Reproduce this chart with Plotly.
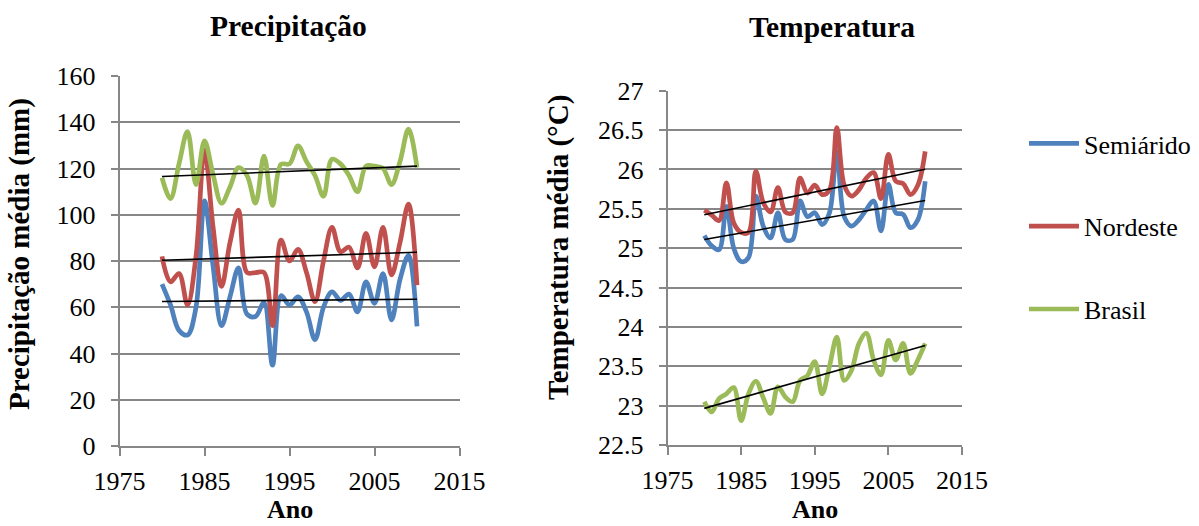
import numpy as np
import plotly.graph_objects as go

# ---------------- data ----------------
years = list(range(1980, 2011))

semi_precip = [70, 61, 50, 48, 60, 106, 78, 52, 64.5, 77, 57, 56, 62, 35, 65, 61, 64.5, 58,
               46, 60, 66.7, 63, 65.7, 58, 71, 61.7, 74.6, 54.5, 72, 82.4, 51.7]
nord_precip = [82, 71, 74.6, 61, 82, 128, 95, 69, 88, 102, 75, 75, 75, 52, 89, 80, 85, 75,
               62.4, 80, 94.6, 84, 86, 77, 92, 77.5, 94.6, 74, 88, 104.6, 69.6]
bras_precip = [116, 107, 122, 136, 113, 132, 117.5, 105, 112, 120.4, 117, 105, 125.4, 104,
               121.8, 122, 129.8, 123, 117, 108, 124, 122, 117, 110, 121, 121, 120, 113,
               123, 137, 120.4]

semi_temp = [25.16, 25.03, 24.98, 25.53, 25.0, 24.83, 24.88, 25.66, 25.28, 25.13, 25.45,
             25.11, 25.11, 25.6, 25.4, 25.45, 25.3, 25.45, 26.23, 25.4, 25.28, 25.36, 25.49,
             25.6, 25.22, 25.81, 25.45, 25.43, 25.26, 25.36, 25.85]
nord_temp = [25.48, 25.42, 25.35, 25.83, 25.32, 25.2, 25.2, 25.98, 25.58, 25.46, 25.77,
             25.46, 25.45, 25.89, 25.7, 25.8, 25.68, 25.74, 26.53, 25.8, 25.66, 25.74, 25.89,
             25.96, 25.63, 26.19, 25.85, 25.82, 25.68, 25.8, 26.23]
bras_temp = [23.05, 22.92, 23.09, 23.15, 23.23, 22.81, 23.15, 23.31, 23.1, 22.9, 23.24,
             23.11, 23.05, 23.32, 23.38, 23.56, 23.15, 23.5, 23.87, 23.32, 23.45, 23.79,
             23.92, 23.58, 23.39, 23.83, 23.58, 23.79, 23.41, 23.58, 23.79]

series_names = ["Semiárido", "Nordeste", "Brasil"]
colors = ["#4F81BD", "#C0504D", "#9BBB59"]

x_ticks = [1975, 1985, 1995, 2005, 2015]
precip_ticks = [0, 20, 40, 60, 80, 100, 120, 140, 160]
temp_ticks = [22.5, 23, 23.5, 24, 24.5, 25, 25.5, 26, 26.5, 27]
temp_ticktext = ["22.5", "23", "23.5", "24", "24.5", "25", "25.5", "26", "26.5", "27"]

# ---------------- figure ----------------
FONT = "Liberation Serif, Times New Roman, serif"
GRID = "#878787"
W, H = 1199, 526

fig = go.Figure()

def add_group(vals_list, xa, ya, legend):
    for name, vals, col in zip(series_names, vals_list, colors):
        fig.add_trace(go.Scatter(
            x=years, y=vals, mode="lines", name=name,
            line=dict(color=col, width=4.7, shape="spline", smoothing=1),
            xaxis=xa, yaxis=ya, showlegend=legend, legendgroup=name,
        ))
    for vals in vals_list:
        k, b = np.polyfit(years, vals, 1)
        xs = [years[0], years[-1]]
        fig.add_trace(go.Scatter(
            x=xs, y=[k * xs[0] + b, k * xs[1] + b], mode="lines",
            line=dict(color="black", width=1.6),
            xaxis=xa, yaxis=ya, showlegend=False, hoverinfo="skip",
        ))

add_group([semi_precip, nord_precip, bras_precip], "x", "y", False)
add_group([semi_temp, nord_temp, bras_temp], "x2", "y2", True)

common_x = dict(
    range=[1975, 2015], tickvals=x_ticks, showgrid=False, zeroline=False,
    showline=True, linecolor=GRID, linewidth=1.5, ticks="outside", ticklen=8,
    tickcolor=GRID, tickwidth=1.5, tickfont=dict(size=26, family=FONT, color="black"),
    ticklabelstandoff=3,
)
common_y = dict(
    showgrid=True, gridcolor=GRID, gridwidth=1.5, zeroline=False,
    showline=True, linecolor=GRID, linewidth=1.5, ticks="outside", ticklen=7,
    tickcolor=GRID, tickwidth=1.5, tickfont=dict(size=26, family=FONT, color="black"),
    ticklabelstandoff=10,
)

fig.update_layout(
    width=W, height=H,
    margin=dict(l=0, r=0, t=0, b=0, pad=0, autoexpand=False),
    plot_bgcolor="white", paper_bgcolor="white",
    font=dict(family=FONT, color="black"),
    xaxis=dict(domain=[119.5 / W, 459.5 / W], anchor="y", **common_x),
    yaxis=dict(domain=[1 - 446 / H, 1 - 76 / H], anchor="x", range=[0, 160],
               tickvals=precip_ticks, **common_y),
    xaxis2=dict(domain=[667.5 / W, 962 / W], anchor="y2", **common_x),
    yaxis2=dict(domain=[1 - 445 / H, 1 - 90.7 / H], anchor="x2", range=[22.5, 27],
                tickvals=temp_ticks, ticktext=temp_ticktext, **common_y),
    legend=dict(
        x=1024 / W, y=1 - 120 / H, xanchor="left", yanchor="top",
        font=dict(size=26, family=FONT, color="black"),
        traceorder="grouped", tracegroupgap=46, itemwidth=50,
        bgcolor="rgba(0,0,0,0)",
    ),
    showlegend=True,
)

bold = dict(family=FONT, color="black")
annots = [
    dict(text="<b>Precipitação</b>", x=288 / W, y=1 - 26 / H, size=29.5),
    dict(text="<b>Temperatura</b>", x=832 / W, y=1 - 27 / H, size=29.5),
    dict(text="<b>Ano</b>", x=290 / W, y=1 - 509 / H, size=26),
    dict(text="<b>Ano</b>", x=815 / W, y=1 - 509 / H, size=26),
]
for a in annots:
    fig.add_annotation(text=a["text"], x=a["x"], y=a["y"], xref="paper", yref="paper",
                       xanchor="center", yanchor="middle", showarrow=False,
                       font=dict(size=a["size"], **bold))
fig.add_annotation(text="<b>Precipitação média (mm)</b>", x=19 / W, y=1 - 254 / H,
                   xref="paper", yref="paper", xanchor="center", yanchor="middle",
                   showarrow=False, textangle=-90, font=dict(size=29, **bold))
fig.add_annotation(text="<b>Temperatura média (°C)</b>", x=558 / W, y=1 - 248 / H,
                   xref="paper", yref="paper", xanchor="center", yanchor="middle",
                   showarrow=False, textangle=-90, font=dict(size=29, **bold))

fig.write_html(
    "out.html",
    config={"displayModeBar": False},
    post_script="document.body.style.margin='0';document.body.style.overflow='hidden';",
)
